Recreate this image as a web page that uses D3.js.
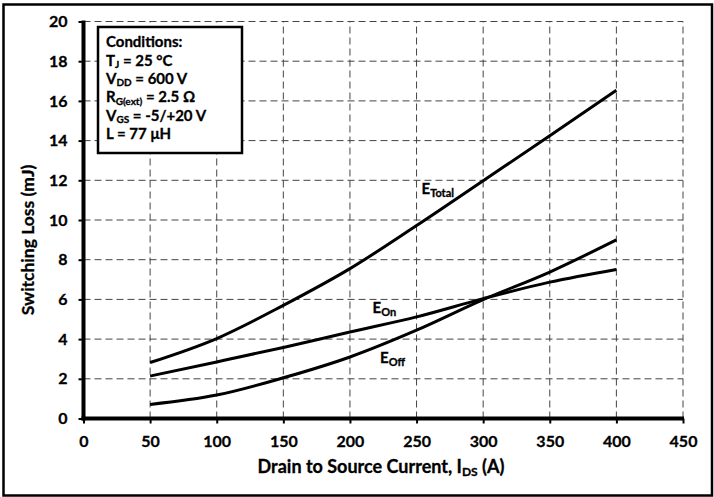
<!DOCTYPE html>
<html>
<head>
<meta charset="utf-8">
<script src="https://cdn.jsdelivr.net/npm/d3@7"></script>
<style>
  html, body { margin: 0; padding: 0; background: #fff; }
  svg { display: block; }
  text { font-family: Lato, "Open Sans", sans-serif; font-weight: bold; fill: #000; stroke: #000; stroke-width: 0.3px; }
</style>
</head>
<body>
<svg id="chart" width="714" height="497"></svg>
<script>
// ---- data ----
const current = [50, 100, 150, 200, 250, 300, 350, 400];
const eTotal  = [2.82, 4.03, 5.70, 7.55, 9.72, 11.98, 14.24, 16.54];
const eOn     = [2.14, 2.85, 3.58, 4.36, 5.12, 6.04, 6.87, 7.51];
const eOff    = [0.71, 1.18, 2.05, 3.10, 4.45, 5.99, 7.38, 9.00];
const xTicks  = [0, 50, 100, 150, 200, 250, 300, 350, 400, 450];
const yTicks  = [0, 2, 4, 6, 8, 10, 12, 14, 16, 18, 20];
const conditions = [
  [["Conditions:", false]],
  [["T", false], ["J", true], [" = 25 °C", false]],
  [["V", false], ["DD", true], [" = 600 V", false]],
  [["R", false], ["G(ext)", true], [" = 2.5 Ω", false]],
  [["V", false], ["GS", true], [" = -5/+20 V", false]],
  [["L = 77 μH", false]]
];

const svg = d3.select("#chart");
const x = d3.scaleLinear().domain([0, 450]).range([83.5, 683]);
const y = d3.scaleLinear().domain([0, 20]).range([418.5, 21.5]);

// outer frame
svg.append("rect").attr("x", 3.5).attr("y", 4.5).attr("width", 708.5).attr("height", 491)
  .attr("fill", "none").attr("stroke", "#000").attr("stroke-width", 2.5);

// grid
const grid = svg.append("g").attr("stroke", "#444").attr("stroke-width", 1).attr("stroke-dasharray", "7,4");
grid.selectAll("line.v").data(xTicks.slice(1)).join("line")
  .attr("x1", d => x(d)).attr("x2", d => x(d)).attr("y1", y(0)).attr("y2", y(20));
grid.selectAll("line.h").data(yTicks.slice(1)).join("line")
  .attr("x1", x(0)).attr("x2", x(450)).attr("y1", d => y(d)).attr("y2", d => y(d));

// curves
const line = d3.line().x(d => x(d[0])).y(d => y(d[1])).curve(d3.curveMonotoneX);
[eTotal, eOn, eOff].forEach(s => {
  svg.append("path").datum(current.map((c, i) => [c, s[i]]))
    .attr("d", line).attr("fill", "none").attr("stroke", "#000").attr("stroke-width", 3);
});

// axes
const ax = svg.append("g").attr("transform", `translate(0,${y(0)})`)
  .call(d3.axisBottom(x).tickValues(xTicks).tickSize(5).tickPadding(12).tickFormat(d3.format("d")));
const ay = svg.append("g").attr("transform", `translate(${x(0)},0)`)
  .call(d3.axisLeft(y).tickValues(yTicks).tickSize(5).tickPadding(11).tickFormat(d3.format("d")));
[ax, ay].forEach(a => {
  a.select(".domain").remove();
  a.selectAll(".tick line").attr("stroke", "#000").attr("stroke-width", 2);
  a.selectAll(".tick text").style("font-family", "Lato, sans-serif").style("font-weight", "bold")
    .style("font-size", "16px").attr("fill", "#000").attr("stroke", "#000").attr("stroke-width", 0.3);
});
svg.append("line").attr("x1", x(0)).attr("x2", x(0)).attr("y1", y(20) - 1).attr("y2", y(0) + 2)
  .attr("stroke", "#000").attr("stroke-width", 4);
svg.append("line").attr("x1", x(0) - 2).attr("x2", x(450) + 1).attr("y1", y(0)).attr("y2", y(0))
  .attr("stroke", "#000").attr("stroke-width", 4);

// axis titles
const xt = svg.append("text").attr("x", 381).attr("y", 473).attr("text-anchor", "middle").style("font-size", "18px");
xt.append("tspan").text("Drain to Source Current, I");
xt.append("tspan").text("DS").style("font-size", "12px").attr("dy", 3);
xt.append("tspan").text(" (A)").attr("dy", -3);

svg.append("text").attr("transform", "translate(34,240) rotate(-90)").attr("text-anchor", "middle")
  .style("font-size", "17.5px").text("Switching Loss (mJ)");

// conditions box
svg.append("rect").attr("x", 98).attr("y", 27).attr("width", 144).attr("height", 126)
  .attr("fill", "#fff").attr("stroke", "#000").attr("stroke-width", 2.5);
conditions.forEach((parts, i) => {
  const t = svg.append("text").attr("x", 106).attr("y", 47.3 + i * 18.3).style("font-size", "15px");
  let sub = false;
  parts.forEach(([s, isSub]) => {
    const sp = t.append("tspan").text(s);
    if (isSub && !sub) { sp.attr("dy", 2.5).style("font-size", "10px"); sub = true; }
    else if (isSub) { sp.style("font-size", "10px"); }
    else if (!isSub && sub) { sp.attr("dy", -2.5); sub = false; }
  });
});

// series labels
function seriesLabel(px, py, sub) {
  const t = svg.append("text").attr("x", px).attr("y", py).style("font-size", "15px");
  t.append("tspan").text("E");
  t.append("tspan").text(sub).attr("dy", 3).style("font-size", "11px");
}
seriesLabel(421.5, 193.5, "Total");
seriesLabel(372.5, 312.5, "On");
seriesLabel(380, 363, "Off");
</script>
</body>
</html>
